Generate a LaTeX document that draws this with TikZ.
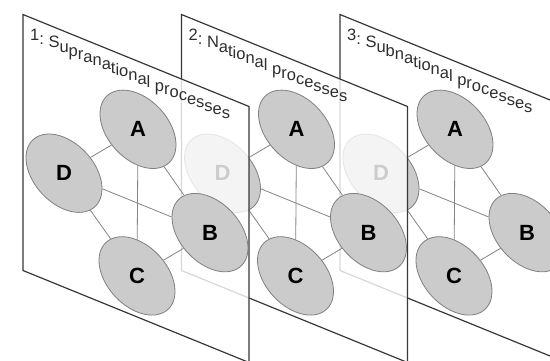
\documentclass[tikz,border=0pt]{standalone}
\usepackage{fontspec}
\setmainfont{Liberation Sans}
\usetikzlibrary{shapes.geometric}
\definecolor{framec}{HTML}{383838}
\definecolor{procfill}{HTML}{CBCBCB}
\definecolor{procline}{HTML}{808080}
\definecolor{linkc}{HTML}{858585}
\definecolor{labelc}{HTML}{2E2E2E}
\newcommand\labelfont{\fontsize{16.5}{17}\selectfont}
% one glyph of a plane title, placed in the plane's own (slanted) coordinates
\newcount\glyphno
\newcommand\placeglyph[2]{%
  \global\advance\glyphno by 1
  \node[glyph] (g\the\glyphno) at (#1,23) {#2};}
\ExplSyntaxOn
\dim_new:N \l__plane_u_dim
\tl_new:N \l__plane_list_tl
\str_new:N \l__plane_text_str
\box_new:N \l__plane_glyph_box
% measures a title glyph by glyph and stores the \placeglyph calls for it
\NewDocumentCommand \buildtitle { m m m }
 {
  \dim_set:Nn \l__plane_u_dim { #2 pt }
  \tl_clear:N \l__plane_list_tl
  \str_set:Nn \l__plane_text_str { #3 }
  \str_map_inline:Nn \l__plane_text_str
   {
    \str_if_eq:nnF { ##1 } { ~ }
     {
      \tl_put_right:Nx \l__plane_list_tl
       { \exp_not:N \placeglyph { \dim_to_decimal:n { \l__plane_u_dim } } { ##1 } }
     }
    \hbox_set:Nn \l__plane_glyph_box { \labelfont ##1 }
    \dim_add:Nn \l__plane_u_dim { \box_wd:N \l__plane_glyph_box }
   }
  \tl_gset_eq:cN { g_plane_title_#1_tl } \l__plane_list_tl
 }
\NewDocumentCommand \usetitle { m } { \tl_use:c { g_plane_title_#1_tl } }
\ExplSyntaxOff
\begin{document}
\buildtitle{1}{7}{1: Supranational processes}%
\buildtitle{2}{7}{2: National processes}%
\buildtitle{3}{7}{3: Subnational processes}%
\begin{tikzpicture}[x=1pt,y=-1pt,
  plate/.style={fill=white, fill opacity=0.8, draw=framec, line width=1.2pt, line join=miter},
  proc/.style={ellipse, draw=procline, fill=procfill, line width=0.8pt,
    minimum width=76pt, minimum height=72pt, inner sep=0pt, transform shape},
  letter/.style={inner sep=0pt, font=\bfseries\fontsize{22}{22}\selectfont},
  link/.style={draw=linkc, line width=0.8pt},
  glyph/.style={anchor=base west, inner sep=0pt, text=labelc, font=\labelfont}]
\useasboundingbox (0,0) rectangle (550,360);
\clip (0,0) rectangle (550,360);
\fill[white] (0,0) rectangle (550,360);
% three slanted planes, the back one first
\foreach \px/\n in {340/3, 181.5/2, 23/1}{
  \begin{scope}[cm={1,-0.407,0,1,(\px,14.5)}]
    \path[plate] (0,0) rectangle (226,256);
    \node[proc] (A\n) at (115,68) {};
    \node[proc] (D\n) at (41,142) {};
    \node[proc] (B\n) at (187,142) {};
    \node[proc] (C\n) at (114,215) {};
    \node[letter] (a\n) at (A\n.center) {A};
    \node[letter] (d\n) at (D\n.center) {D};
    \node[letter] (b\n) at (B\n.center) {B};
    \node[letter] (c\n) at (C\n.center) {C};
    \draw[link] (A\n) -- (D\n);
    \draw[link] (A\n) -- (B\n);
    \draw[link] (A\n) -- (C\n);
    \draw[link] (D\n) -- (B\n);
    \draw[link] (D\n) -- (C\n);
    \draw[link] (B\n) -- (C\n);
    \usetitle{\n}
  \end{scope}
}
\end{tikzpicture}
\end{document}
